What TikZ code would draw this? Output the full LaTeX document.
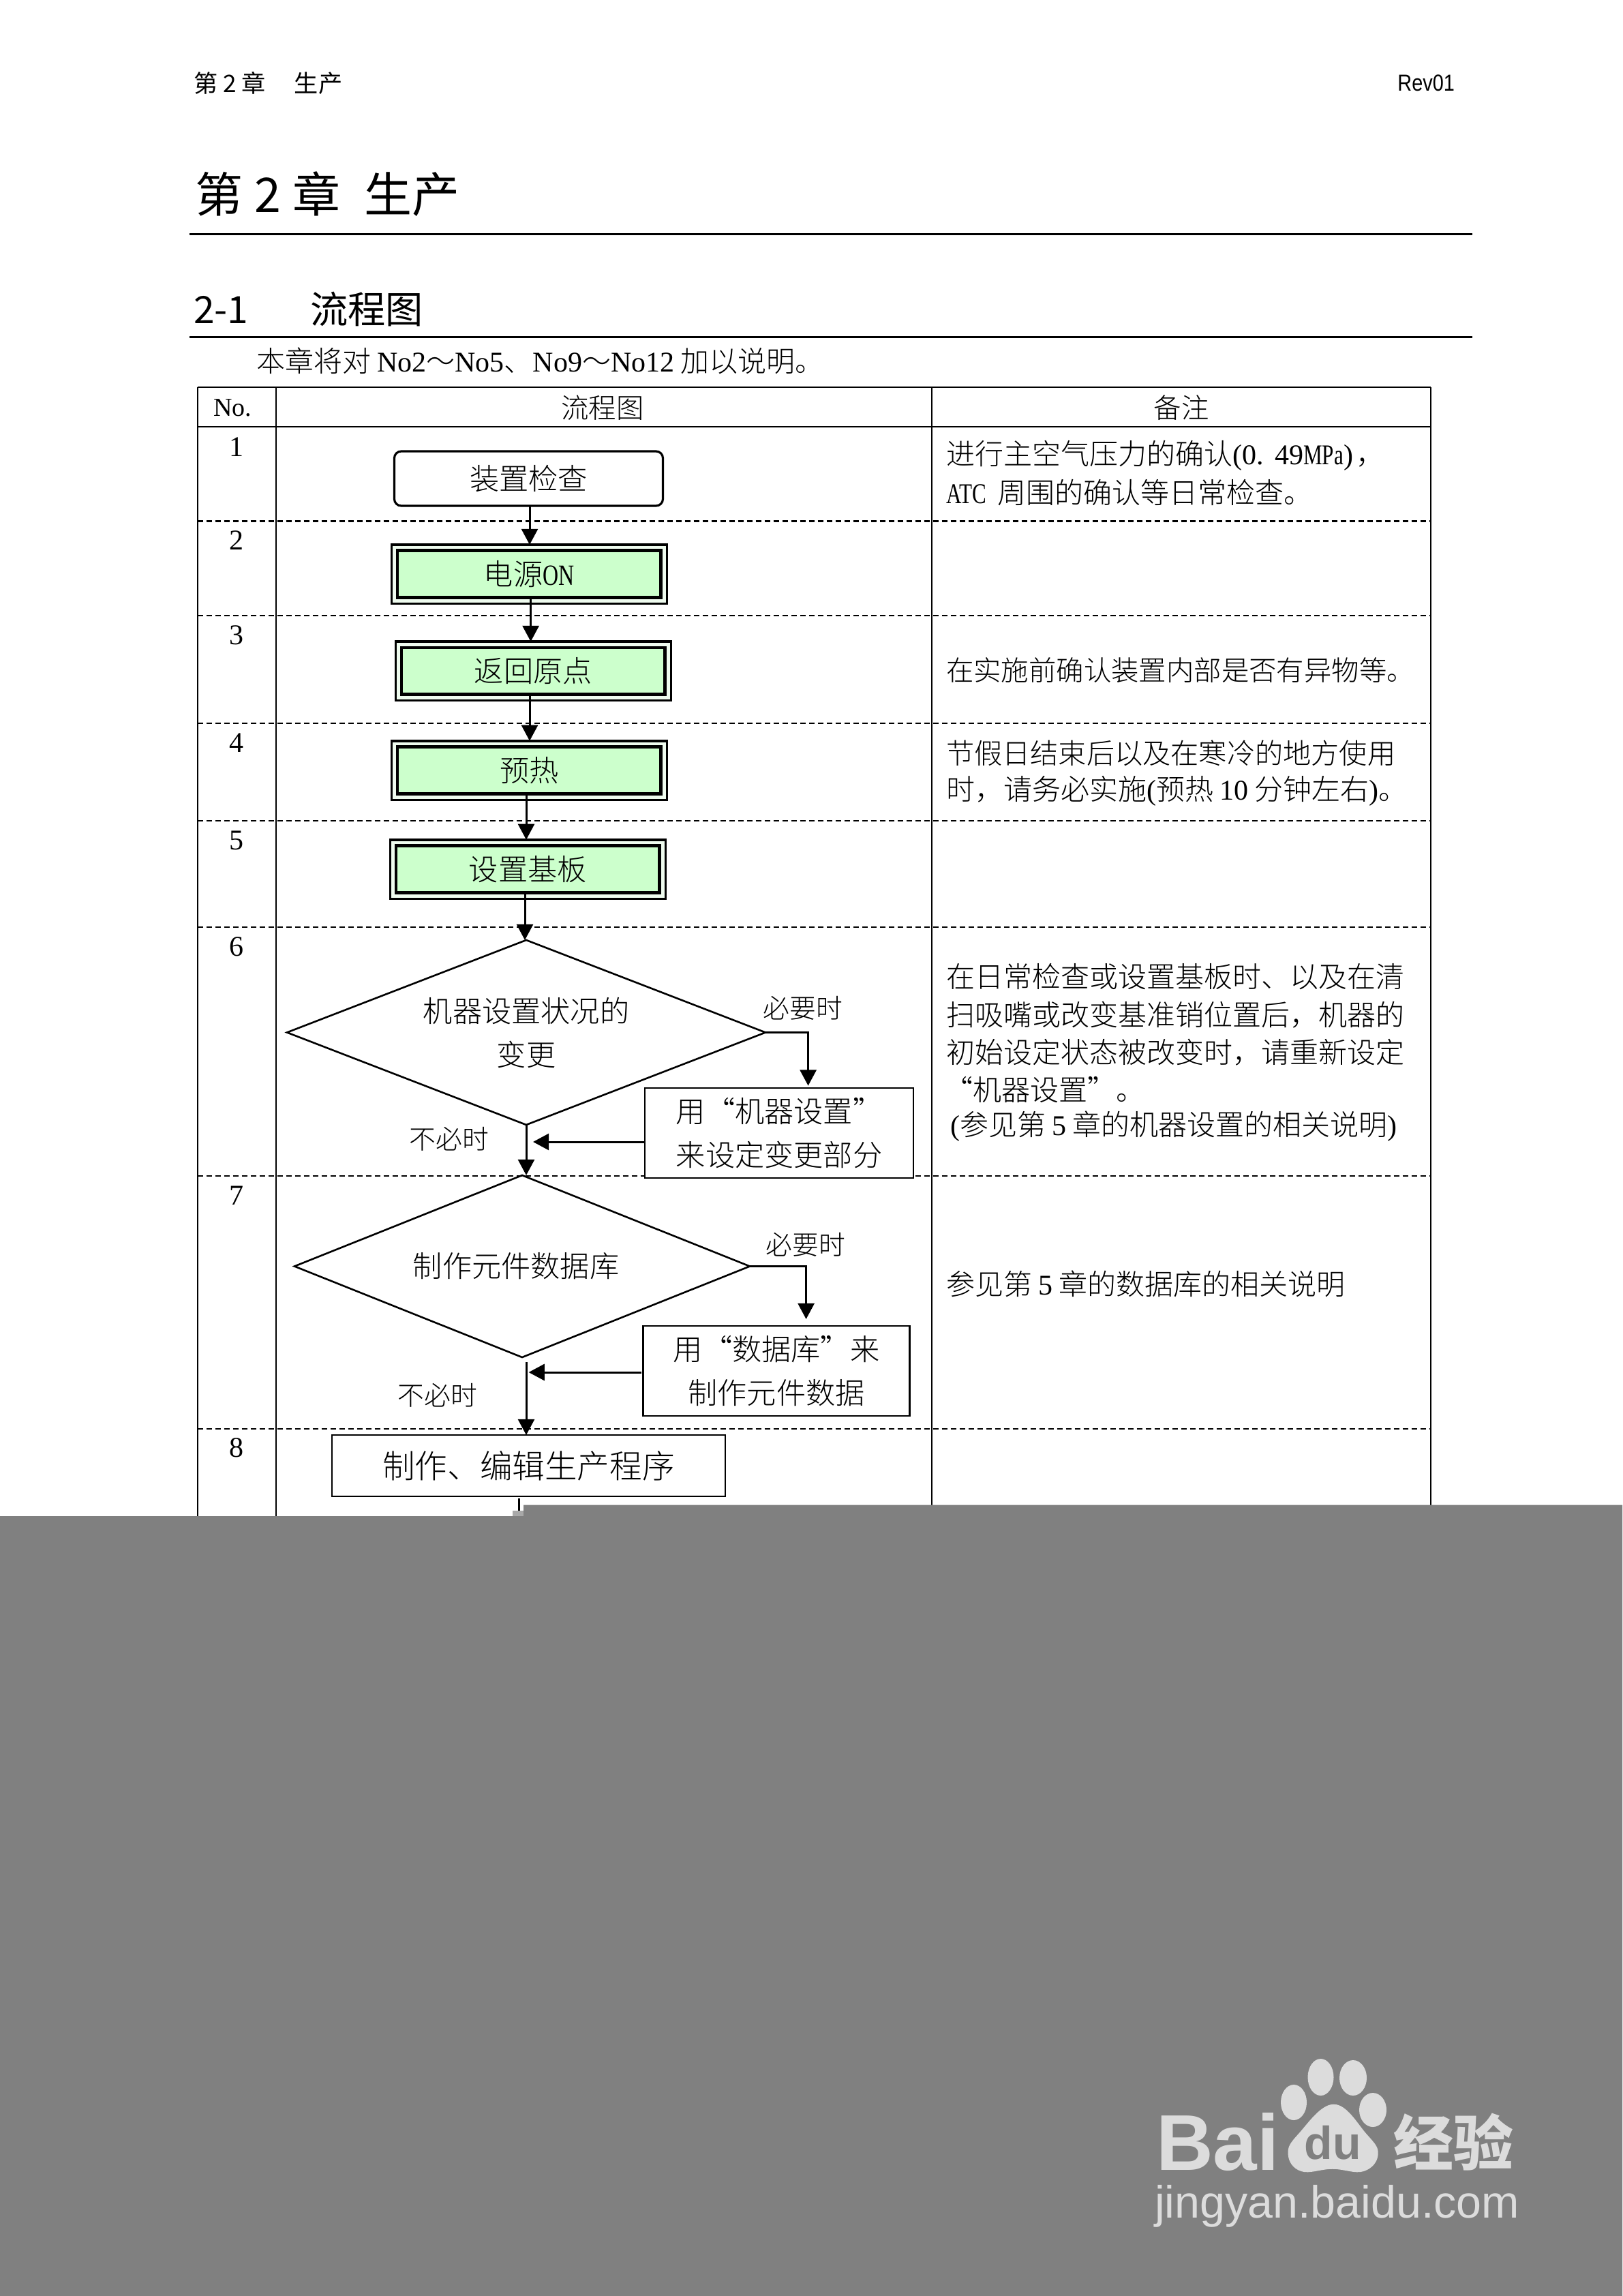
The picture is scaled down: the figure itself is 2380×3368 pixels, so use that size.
\documentclass[tikz,border=0pt]{standalone}
\usepackage{fontspec}
\setmainfont{Noto Sans CJK SC Light}
\newfontfamily\gth{Noto Sans CJK SC}
\newfontfamily\latf{Liberation Serif}
\newfontfamily\latn[FakeStretch=.74]{Liberation Serif}
\newfontfamily\sanf{Liberation Sans}
\newfontfamily\sann[FakeStretch=.85]{Liberation Sans}
\newcommand\ltn[1]{{\latf #1}}
\newcommand\ltc[1]{{\latn #1}}
\usetikzlibrary{arrows.meta,shapes.geometric}
\definecolor{boxgreen}{HTML}{CCFFCC}
\definecolor{gapgreen}{HTML}{EEFBEE}
\definecolor{cover}{HTML}{808080}
\definecolor{wmgrey}{HTML}{DCDCDC}
\tikzset{
  every node/.style={inner sep=0pt,outer sep=0pt},
  body/.style={font=\fontsize{10.8}{16}\selectfont},
  note/.style={font=\fontsize{10.5}{16}\selectfont,anchor=west},
  num/.style={font=\latf\fontsize{10.5}{12}\selectfont},
  small/.style={font=\fontsize{9.7}{12}\selectfont},
  tline/.style={line width=.5pt},
  rowdash/.style={line width=.6pt,dash pattern=on 2pt off 1.25pt},
  rowthin/.style={line width=.35pt,dash pattern=on 2pt off 1.25pt},
  rulerline/.style={line width=.75pt},
  arr/.style={line width=.75pt,-{Triangle[length=5.8pt,width=6pt]}},
  plainbox/.style={draw,line width=.65pt,align=center,body},
  outerbox/.style={draw,line width=.85pt,fill=gapgreen,minimum width=101pt,minimum height=21.6pt},
  innerbox/.style={draw,line width=1.15pt,fill=boxgreen,minimum width=96.6pt,minimum height=17.2pt,body},
  decide/.style={draw,shape=diamond,shape aspect=2.6,line width=.65pt,align=center,body},
}
\begin{document}
\begin{tikzpicture}[x=.25pt,y=-.25pt]
\useasboundingbox (0,0) rectangle (2380,3368);
% page head
\node[anchor=west,font=\gth\fontsize{8.8}{10}\selectfont] (hd) at (284,122) {第 2 章\hspace{1.2em}生产};
\node[anchor=east,font=\sann\fontsize{8.5}{10}\selectfont] (rev) at (2134,122) {Rev01};
\node[anchor=west,font=\gth\fontsize{17.5}{20}\selectfont] (title) at (286,285) {第\hspace{.25em}2\hspace{.25em}章\hspace{.5em}生产};
\coordinate (rl) at (278,0); \coordinate (rr) at (2160,0);
\coordinate (ry1) at (0,343.4); \coordinate (ry2) at (0,495);
\draw[rulerline] (rl |- ry1) -- (rr |- ry1);
\node[anchor=west,font=\gth\fontsize{13.8}{16}\selectfont] (sec) at (284,454) {2-1\hspace{1.65em}流程图};
\draw[rulerline] (rl |- ry2) -- (rr |- ry2);
\node[note] (intro) at (376,529) {本章将对 \ltn{No2}～\ltn{No5}、\ltn{No9}～\ltn{No12} 加以说明。};
% table frame
\coordinate (c0) at (289.5,0); \coordinate (c1) at (405,0); \coordinate (c2) at (1367,0); \coordinate (c3) at (2099,0);
\coordinate (ttop) at (0,568); \coordinate (thead) at (0,626); \coordinate (tbot) at (0,2226);
\foreach \c in {c0,c1,c2,c3} \draw[tline] (\c |- ttop) -- (\c |- tbot);
\draw[tline] (c0 |- ttop) -- (c3 |- ttop);
\draw[line width=.7pt] (c0 |- thead) -- (c3 |- thead);
\foreach \y in {764.5,903,1203.7,1360,1725,2096} { \coordinate (ry) at (0,\y); \draw[rowdash] (c0 |- ry) -- (c3 |- ry); }
\coordinate (ry) at (0,1061); \draw[rowthin] (c0 |- ry) -- (c3 |- ry);
% table heads
\node[font=\latf\fontsize{9.5}{12}\selectfont] (hno) at (341,598) {No.};
\node[font=\fontsize{10.1}{12}\selectfont] (hflow) at (884,598) {流程图};
\node[font=\fontsize{10.1}{12}\selectfont] (hnote) at (1733,598) {备注};
% row numbers
\node[num] (n1) at (346.6,656) {1};
\node[num] (n2) at (346.6,793) {2};
\node[num] (n3) at (346.6,932) {3};
\node[num] (n4) at (346.6,1090) {4};
\node[num] (n5) at (346.6,1232.6) {5};
\node[num] (n6) at (346.6,1389) {6};
\node[num] (n7) at (346.6,1754) {7};
\node[num] (n8) at (346.6,2124) {8};
% flow boxes
\node[plainbox,rounded corners=2.5pt,line width=.8pt,minimum width=98.5pt,minimum height=20pt] (b1) at (775.5,702) {装置检查};
\node[outerbox] (b2o) at (776.2,842.2) {};
\node[innerbox] (b2) at (776.2,842.2) {电源\ltc{ON}};
\node[outerbox] (b3o) at (782.2,984.3) {};
\node[innerbox] (b3) at (782.2,984.3) {返回原点};
\node[outerbox] (b4o) at (776.2,1130) {};
\node[innerbox] (b4) at (776.2,1130) {预热};
\node[outerbox] (b5o) at (774.3,1275) {};
\node[innerbox] (b5) at (774.3,1275) {设置基板};
\node[decide,minimum width=175.5pt,minimum height=67.75pt] (d1) at (772,1514.5) {机器设置状况的\\变更};
\node[plainbox,fill=white,minimum width=98.5pt,minimum height=33pt] (b6) at (1143,1662) {用“机器设置”\\来设定变更部分};
\node[decide,minimum width=167pt,minimum height=66.75pt] (d2) at (766,1857.5) {制作元件数据库\hspace*{4.5pt}};
\node[plainbox,fill=white,minimum width=97.75pt,minimum height=33pt] (b7) at (1139,2011) {用“数据库”来\\制作元件数据};
\node[plainbox,font=\fontsize{11.9}{14}\selectfont,minimum width=144.25pt,minimum height=22.5pt] (b8) at (775.5,2150) {制作、编辑生产程序};
% labels
\node[small] (l1) at (1177.6,1479) {必要时};
\node[small] (l2) at (658.6,1671) {不必时};
\node[small] (l3) at (1182,1826) {必要时};
\node[small] (l4) at (642,2047) {不必时};
% connectors
\coordinate (x12) at (777,0); \coordinate (x23) at (778.6,0); \coordinate (x34) at (777,0);
\coordinate (x45) at (772,0); \coordinate (x56) at (770,0);
\draw[arr] (x12 |- b1.south) -- (x12 |- b2o.north);
\draw[arr] (x23 |- b2.south) -- (x23 |- b3o.north);
\draw[arr] (x34 |- b3.south) -- (x34 |- b4o.north);
\draw[arr] (x45 |- b4.south) -- (x45 |- b5o.north);
\draw[arr] (x56 |- b5.south) -- (x56 |- d1.north);
\coordinate (t1) at (1185.6,1592.6);
\draw[arr] (d1.east) -| (t1);
\coordinate (j1) at (782,1675);
\draw[arr] (b6.west |- j1) -- (j1);
\draw[arr] (d1.south) -- (d1.south |- d2.north);
\coordinate (t2) at (1182.6,1935);
\draw[arr] (d2.east) -| (t2);
\coordinate (j2s) at (940.6,2013); \coordinate (j2) at (775.6,2013);
\draw[arr] (j2s) -- (j2);
\coordinate (a7) at (772,1998);
\draw[arr] (a7) -- (a7 |- b8.north);
\coordinate (s1) at (761.7,2198); \coordinate (s2) at (761.7,2216);
\draw[line width=.7pt] (s1) -- (s2);
% notes
\node[note] (r1a) at (1388,668.6) {进行主空气压力的确认\ltn{(0.\hspace{.4em}49}\ltc{MPa}\ltn{)}\hspace{.1em}，};
\node[note] (r1b) at (1388,723) {\ltc{ATC}\hspace{.4em}周围的确认等日常检查。};
\node[note,font=\fontsize{10.1}{16}\selectfont] (r3) at (1388,983.4) {在实施前确认装置内部是否有异物等。};
\node[note,font=\fontsize{10.3}{16}\selectfont] (r4a) at (1388,1105) {节假日结束后以及在寒冷的地方使用};
\node[note] (r4b) at (1388,1160) {时，请务必实施\ltn{(}预热 \ltn{10} 分钟左右\ltn{)}。};
\node[note] (r6a) at (1388,1433) {在日常检查或设置基板时、以及在清};
\node[note] (r6b) at (1388,1489) {扫吸嘴或改变基准销位置后，机器的};
\node[note] (r6c) at (1388,1544) {初始设定状态被改变时，请重新设定};
\node[note] (r6d) at (1385,1599) {“机器设置”。};
\node[note] (r6e) at (1394,1652) {\ltn{(}参见第 \ltn{5} 章的机器设置的相关说明\ltn{)}};
\node[note] (r7) at (1388,1883) {参见第 \ltn{5} 章的数据库的相关说明};
% grey cover
\fill[cover] (0,2224) -- (752,2224) -- (752,2216) -- (768,2216) -- (768,2207.7) -- (2380,2207.7) -- (2380,3368) -- (0,3368) -- cycle;
\fill[black!34] (752,2216) rectangle (768,2224);
% watermark
\fill[wmgrey] (1937.5,3047) ellipse [x radius=19,y radius=27];
\fill[wmgrey] (1985,3048) ellipse [x radius=20,y radius=26];
\fill[wmgrey] (1898,3084) ellipse [x radius=19,y radius=26];
\fill[wmgrey] (2014,3095) ellipse [x radius=20,y radius=25];
\fill[wmgrey] plot[smooth cycle,tension=.7] coordinates {(1956.6,3086.7) (1905,3130) (1889.6,3160) (1908.8,3185) (1954.7,3181.7) (2000.6,3185) (2021.7,3160) (2004.4,3130)};
\node[anchor=base west,text=wmgrey,font=\sanf\bfseries\fontsize{29}{30}\selectfont] (wb) at (1696,3183) {Bai};
\node[anchor=base,text=cover,font=\sanf\bfseries\fontsize{17}{18}\selectfont] (wd) at (1955,3167) {du};
\node[text=wmgrey,font=\gth\bfseries\fontsize{22}{24}\selectfont] (wj) at (2132,3142) {经验};
\node[anchor=base west,text=wmgrey,font=\sanf\fontsize{16.6}{18}\selectfont] (wu) at (1694,3253) {jingyan.baidu.com};
\end{tikzpicture}
\end{document}
